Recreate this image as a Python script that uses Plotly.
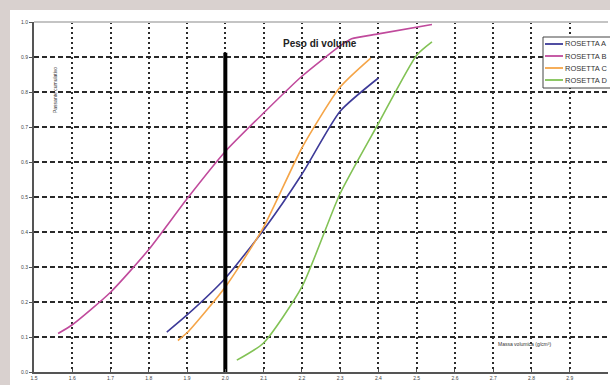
import plotly.graph_objects as go

# ---- data ----
series_names = ["ROSETTA A", "ROSETTA B", "ROSETTA C", "ROSETTA D"]

a_x = [1.847, 1.9, 2.0, 2.1, 2.2, 2.3, 2.4]
a_y = [0.114, 0.163, 0.268, 0.406, 0.565, 0.745, 0.84]

b_x = [1.563, 1.6, 1.7, 1.8, 1.9, 2.0, 2.1, 2.2, 2.3, 2.33, 2.4, 2.54]
b_y = [0.110, 0.135, 0.228, 0.350, 0.495, 0.630, 0.740, 0.845, 0.932, 0.952, 0.966, 0.993]

c_x = [1.876, 1.9, 2.0, 2.1, 2.2, 2.3, 2.38]
c_y = [0.090, 0.112, 0.243, 0.414, 0.640, 0.814, 0.897]

d_x = [2.03, 2.1, 2.2, 2.3, 2.4, 2.5, 2.54]
d_y = [0.034, 0.083, 0.243, 0.510, 0.710, 0.905, 0.943]

limit_x = [2.0, 2.0]
limit_y = [0.0, 0.912]

x_ticks = [1.5, 1.6, 1.7, 1.8, 1.9, 2.0, 2.1, 2.2, 2.3, 2.4, 2.5, 2.6, 2.7, 2.8, 2.9, 3.0]
y_ticks = [0.0, 0.1, 0.2, 0.3, 0.4, 0.5, 0.6, 0.7, 0.8, 0.9, 1.0]

title_text = "Peso di volume"
x_title = "Massa volumica (g/cm³)"
y_title = "Passante cumulativo"

colors = ["#3d3a98", "#c04a9c", "#f5a548", "#82c255"]

fig = go.Figure()
for name, xs, ys, col in zip(series_names, [a_x, b_x, c_x, d_x], [a_y, b_y, c_y, d_y], colors):
    fig.add_trace(go.Scatter(x=xs, y=ys, mode="lines", name=name, showlegend=False,
                             line=dict(color=col, width=1.6, shape="spline", smoothing=0.6)))

fig.add_trace(go.Scatter(x=limit_x, y=limit_y, mode="lines", showlegend=False,
                         line=dict(color="#000000", width=4)))

L, T, W, H = 34, 22, 610, 385
B = H - 372
R = 2
pw = W - L - R
ph = H - T - B

def px(xp):
    return (xp - L) / pw

def py(yp):
    return (H - B - yp) / ph

shapes = [
    dict(type="rect", xref="paper", yref="paper", x0=px(10), x1=px(615),
         y0=py(390), y1=py(10), fillcolor="#ffffff", line=dict(width=0), layer="below"),
    dict(type="line", xref="paper", yref="paper", x0=0, x1=1, y0=1, y1=1,
         line=dict(color="#c4c4c4", width=2), layer="above"),
    # legend box
    dict(type="rect", xref="paper", yref="paper", x0=px(543), x1=px(616),
         y0=py(88), y1=py(37), fillcolor="#ffffff", line=dict(color="#444444", width=1),
         layer="above"),
]
annotations = [
    dict(text="<b>" + title_text + "</b>", xref="paper", yref="paper",
         x=px(320), y=py(36), showarrow=False, font=dict(size=10, color="#222222")),
    dict(text=x_title, xref="paper", yref="paper", x=px(553), y=py(349),
         showarrow=False, font=dict(size=5, color="#333333")),
    dict(text=y_title, xref="paper", yref="paper", x=px(50), y=py(65),
         showarrow=False, textangle=-90, font=dict(size=5, color="#333333")),
]
leg_y = [44, 56, 68, 80]
for name, col, yy in zip(series_names, colors, leg_y):
    shapes.append(dict(type="line", xref="paper", yref="paper", x0=px(545), x1=px(563),
                       y0=py(yy), y1=py(yy), line=dict(color=col, width=1.8), layer="above"))
    annotations.append(dict(text=name, xref="paper", yref="paper", x=px(563), y=py(yy),
                            xanchor="left", yanchor="middle", showarrow=False,
                            font=dict(size=7.5, color="#333333")))

fig.update_layout(
    width=W, height=H,
    margin=dict(l=L, r=R, t=T, b=B, pad=0),
    paper_bgcolor="#d9d1cf",
    plot_bgcolor="#ffffff",
    font=dict(family="Liberation Sans, Arial", size=5, color="#444444"),
    showlegend=False,
    shapes=shapes,
    annotations=annotations,
)

fig.update_xaxes(range=[1.5, 3.0], tickvals=x_ticks, ticktext=[f"{v:.1f}" for v in x_ticks],
                 showgrid=True, gridcolor="#2a2a2a", gridwidth=1.6, griddash="2px,3px",
                 showline=True, linecolor="#555555", linewidth=2, zeroline=False,
                 ticks="inside", ticklen=3, tickcolor="#555555", tickfont=dict(size=5))
fig.update_yaxes(range=[0, 1.0], tickvals=y_ticks, ticktext=[f"{v:.1f}" for v in y_ticks],
                 showgrid=True, gridcolor="#2a2a2a", gridwidth=1.6, griddash="5px,3px",
                 showline=True, linecolor="#555555", linewidth=2, zeroline=False,
                 ticks="outside", ticklen=3, tickcolor="#555555", tickfont=dict(size=5))

fig.write_html("out.html", config={"displayModeBar": False},
               post_script="document.body.style.margin='0';document.body.style.padding='0';"
                           "document.body.style.overflow='hidden';")
